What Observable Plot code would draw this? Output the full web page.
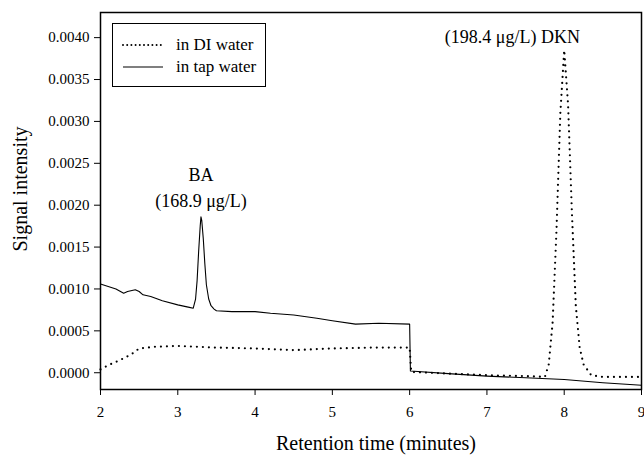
<!DOCTYPE html>
<html>
<head>
<meta charset="utf-8">
<script src="https://cdn.jsdelivr.net/npm/d3@7"></script>
<script src="https://cdn.jsdelivr.net/npm/@observablehq/plot@0.6"></script>
<style>
  html, body { margin: 0; padding: 0; background: #fff; }
  #wrap { position: relative; width: 644px; height: 456px; font-family: "Liberation Serif", "Times New Roman", "DejaVu Serif", serif; }
  #wrap svg text { font-family: "Liberation Serif", "Times New Roman", "DejaVu Serif", serif !important; }
  #legend { position: absolute; left: 112px; top: 23px; width: 152px; height: 62px; border: 1px solid #000; background: #fff; font-size: 17px; }
  .row { position: absolute; left: 0; height: 20px; display: flex; align-items: center; }
  .row svg { margin-left: 9px; margin-right: 12px; }
</style>
</head>
<body>
<div id="wrap"></div>
<script>
// Series: DI water (dotted) and tap water (solid)
const tapTime = [2.0, 2.1, 2.2, 2.3, 2.35, 2.45, 2.5, 2.55, 2.65, 2.8, 3.0, 3.15, 3.2, 3.23, 3.25, 3.27, 3.29, 3.3, 3.31, 3.33, 3.35, 3.37, 3.4, 3.43, 3.47, 3.5, 3.7, 4.0, 4.2, 4.5, 4.8, 5.0, 5.3, 5.6, 6.0, 6.01, 6.5, 7.0, 7.5, 8.0, 8.5, 9.0];
const tapSignal = [0.00106, 0.00103, 0.00100, 0.00095, 0.00097, 0.00099, 0.00097, 0.00093, 0.00091, 0.00086, 0.00081, 0.00078, 0.00077, 0.00088, 0.00110, 0.00145, 0.00175, 0.00186, 0.00182, 0.00160, 0.00130, 0.00105, 0.00088, 0.00080, 0.00076, 0.00074, 0.00073, 0.00073, 0.00071, 0.00069, 0.00065, 0.00062, 0.00058, 0.00059, 0.00058, 0.00002, -0.00001, -0.00004, -0.00006, -0.00008, -0.00012, -0.00015];

const diTime = [2.0, 2.1, 2.25, 2.4, 2.5, 2.7, 3.0, 3.5, 4.0, 4.5, 5.0, 5.5, 6.0, 6.02, 6.5, 7.0, 7.5, 7.75, 7.8, 7.85, 7.9, 7.95, 8.0, 8.05, 8.1, 8.15, 8.2, 8.25, 8.35, 8.5, 9.0];
const diSignal = [0.00004, 0.00009, 0.00015, 0.00022, 0.00029, 0.00031, 0.00032, 0.00030, 0.00029, 0.00027, 0.00029, 0.00030, 0.00030, 0.00001, -0.00001, -0.00003, -0.00004, -0.00005, 0.00010, 0.00060, 0.00170, 0.00310, 0.00385, 0.00320, 0.00190, 0.00080, 0.00030, 0.00010, -0.00003, -0.00005, -0.00005];

const xTicks = [2, 3, 4, 5, 6, 7, 8, 9];
const yTicks = [0, 0.0005, 0.0010, 0.0015, 0.0020, 0.0025, 0.0030, 0.0035, 0.0040];

const annoText = ["BA", "(168.9 \u03bcg/L)", "(198.4 \u03bcg/L) DKN"];
const annoTime = [3.3, 3.3, 7.33];
const annoSignal = [0.00236, 0.00205, 0.00400];

const seriesNames = ["in DI water", "in tap water"];

const tap = tapTime.map((t, i) => ({t, v: tapSignal[i]}));
const di = diTime.map((t, i) => ({t, v: diSignal[i]}));
const anno = annoText.map((s, i) => ({s, t: annoTime[i], v: annoSignal[i]}));

const serif = "'Liberation Serif', 'Times New Roman', 'DejaVu Serif', serif";

const chart = Plot.plot({
  width: 644,
  height: 456,
  marginTop: 12,
  marginRight: 3,
  marginBottom: 67,
  marginLeft: 100,
  style: {fontFamily: serif, fontSize: "15px", color: "#000", background: "#fff"},
  x: {domain: [2, 9]},
  y: {domain: [-0.0002, 0.0043]},
  marks: [
    Plot.axisX({ticks: xTicks, tickSize: 6, tickPadding: 11, tickFormat: d => String(d), label: null, fontSize: 15, fontFamily: serif}),
    Plot.axisY({ticks: yTicks, tickSize: 6, tickPadding: 5, tickFormat: d3.format(".4f"), label: null, fontSize: 15, fontFamily: serif}),
    Plot.line(di, {x: "t", y: "v", stroke: "#000", strokeWidth: 2.2, strokeDasharray: "0,6", strokeLinecap: "round"}),
    Plot.line(tap, {x: "t", y: "v", stroke: "#000", strokeWidth: 1.1}),
    Plot.text(anno, {x: "t", y: "v", text: "s", fontSize: 18, fill: "#000", fontFamily: serif}),
    Plot.text(["Signal intensity"], {frameAnchor: "left", dx: -80, dy: -12, rotate: -90, textAnchor: "middle", lineAnchor: "middle", fontSize: 20, fill: "#000", fontFamily: serif}),
    Plot.text(["Retention time (minutes)"], {frameAnchor: "bottom", dx: 5, dy: 54, textAnchor: "middle", lineAnchor: "middle", fontSize: 20, fill: "#000", fontFamily: serif}),
    Plot.frame({stroke: "#000", strokeWidth: 1.5})
  ]
});

const wrap = document.getElementById("wrap");
wrap.appendChild(chart);

const legend = document.createElement("div");
legend.id = "legend";
seriesNames.forEach((name, i) => {
  const row = document.createElement("div");
  row.className = "row";
  row.style.top = (11 + i * 22) + "px";
  const dash = i === 0 ? 'stroke-dasharray="0,4.2" stroke-linecap="round" stroke-width="2"' : 'stroke-width="1.1"';
  row.innerHTML = `<svg width="42" height="8"><line x1="1" y1="4" x2="41" y2="4" stroke="#000" ${dash}/></svg><span>${name}</span>`;
  legend.appendChild(row);
});
wrap.appendChild(legend);
</script>
</body>
</html>
